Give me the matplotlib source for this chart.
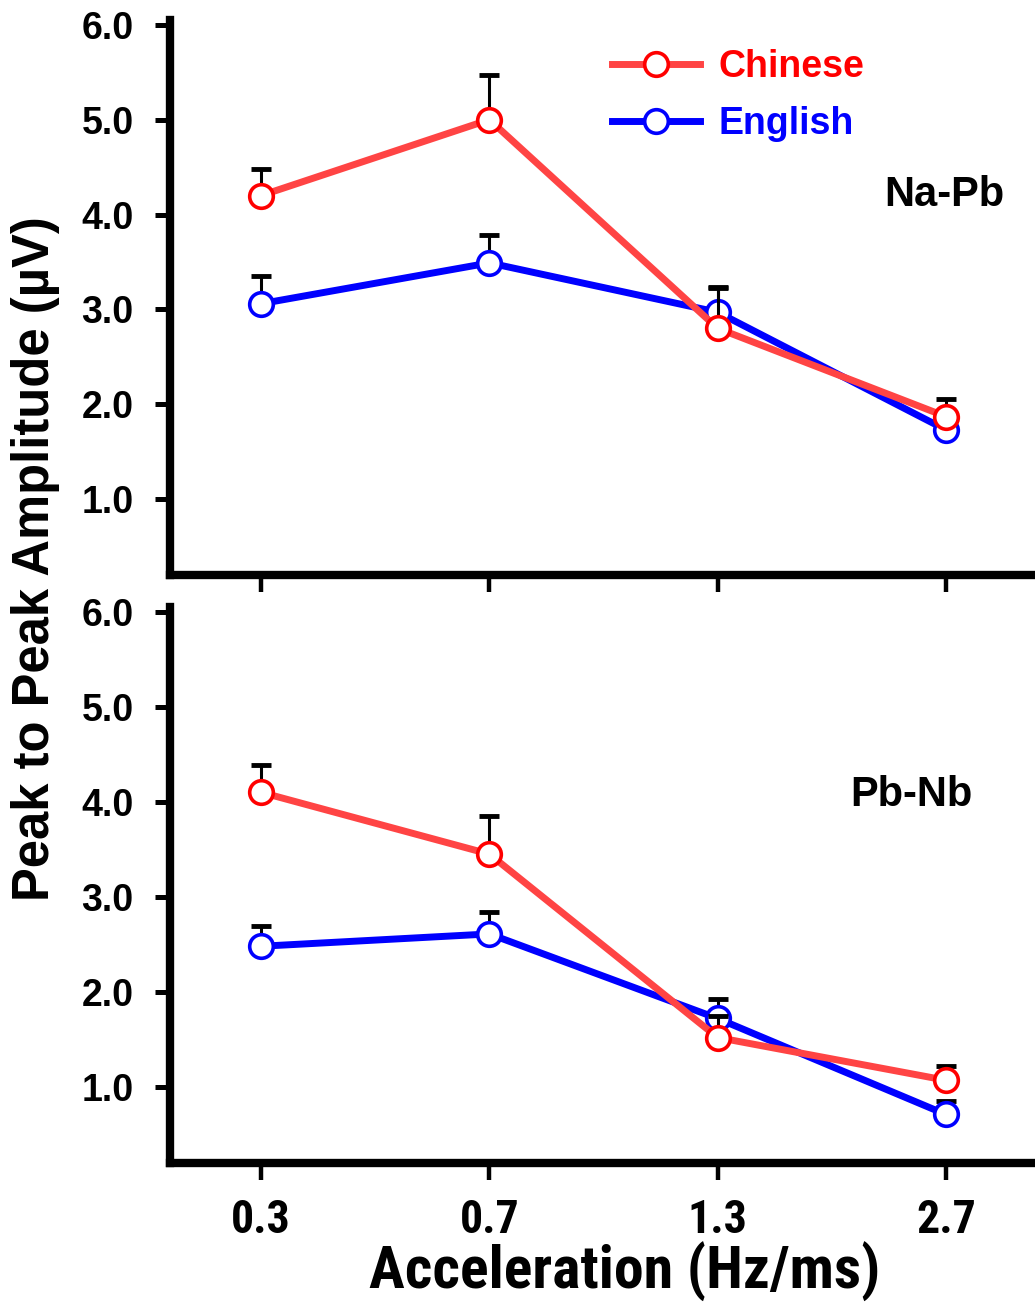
import numpy as np
import matplotlib
matplotlib.use("Agg")
import matplotlib.pyplot as plt
from matplotlib import font_manager

# data
accel = ["0.3", "0.7", "1.3", "2.7"]

napb_chinese = [4.20, 5.00, 2.80, 1.87]
napb_chinese_err = [0.28, 0.47, 0.42, 0.18]
napb_english = [3.06, 3.49, 2.97, 1.73]
napb_english_err = [0.29, 0.29, 0.27, 0.10]

pbnb_chinese = [4.10, 3.45, 1.52, 1.07]
pbnb_chinese_err = [0.29, 0.40, 0.23, 0.15]
pbnb_english = [2.48, 2.61, 1.72, 0.71]
pbnb_english_err = [0.21, 0.23, 0.21, 0.14]

names = {f.name for f in font_manager.fontManager.ttflist}
main_font = "Liberation Sans" if "Liberation Sans" in names else "DejaVu Sans"
plt.rcParams["font.family"] = main_font
plt.rcParams["font.weight"] = "bold"


def find_narrow_bold():
    # look for a condensed bold sans face, if the system has one
    narrow_stretch = ("ultra-condensed", "extra-condensed", "condensed", "semi-condensed")
    prefs = ["Liberation Sans Narrow", "Arial Narrow", "Roboto Condensed",
             "Open Sans Condensed", "Noto Sans", "DejaVu Sans"]
    for fam in prefs:
        for f in font_manager.fontManager.ttflist:
            w = f.weight if isinstance(f.weight, int) else {"bold": 700}.get(f.weight, 400)
            narrow = (f.stretch in narrow_stretch or
                      (isinstance(f.stretch, int) and f.stretch < 100) or
                      "Narrow" in f.name or "Condensed" in f.name or
                      "Condensed" in f.fname)
            if f.name.startswith(fam) and w >= 700 and narrow:
                return font_manager.FontProperties(fname=f.fname)
    return None


narrow = find_narrow_bold()

red_line = "#FF4444"
red_edge = "#FF0000"
blue = "#0000FF"

fig = plt.figure(figsize=(10.35, 13.02), dpi=100)
ax1 = fig.add_axes([0.164, 0.5584, 0.836, 0.4262])
ax2 = fig.add_axes([0.164, 0.1068, 0.836, 0.4270])

x = np.arange(len(accel))


def draw_panel(ax, chinese, chinese_err, english, english_err):
    zero = np.zeros(len(x))
    ax.plot(x, english, color=blue, lw=5, zorder=2, solid_capstyle="butt")
    ax.errorbar(x, english, yerr=[zero, english_err], fmt="none", ecolor="black",
                elinewidth=2.2, capsize=7, capthick=3.5, zorder=2.1)
    ax.plot(x, english, ls="none", marker="o", ms=17, mfc="white", mec=blue, mew=2.6,
            zorder=2.2)
    ax.plot(x, chinese, color=red_line, lw=5, zorder=3, solid_capstyle="butt")
    ax.errorbar(x, chinese, yerr=[zero, chinese_err], fmt="none", ecolor="black",
                elinewidth=2.2, capsize=7, capthick=3.5, zorder=3.1)
    ax.plot(x, chinese, ls="none", marker="o", ms=17, mfc="white", mec=red_edge, mew=2.6,
            zorder=3.2)

    ax.set_xlim(-0.40, 3.39)
    ax.set_ylim(0.2, 6.05)
    ax.set_yticks([1, 2, 3, 4, 5, 6])
    ax.set_yticklabels(["%.1f" % v for v in [1, 2, 3, 4, 5, 6]])
    ax.set_xticks(x)
    for s in ["top", "right"]:
        ax.spines[s].set_visible(False)
    for s in ["left", "bottom"]:
        ax.spines[s].set_linewidth(6)
    ax.tick_params(axis="y", direction="out", length=11, width=3.6, pad=15, labelsize=27)
    ax.tick_params(axis="x", direction="out", length=12, width=3.2, pad=13)
    for lab in ax.get_yticklabels():
        lab.set_fontweight("bold")


draw_panel(ax1, napb_chinese, napb_chinese_err, napb_english, napb_english_err)
draw_panel(ax2, pbnb_chinese, pbnb_chinese_err, pbnb_english, pbnb_english_err)

ax1.set_xticklabels([])
if narrow is not None:
    ax2.set_xticklabels(accel, fontproperties=narrow, fontsize=33)
    xlab_kw = dict(fontproperties=narrow, fontsize=43)
else:
    ax2.set_xticklabels(accel, fontsize=27, fontweight="bold")
    xlab_kw = dict(fontsize=37, fontweight="bold")

ax1.text(0.965, 0.685, "Na-Pb", transform=ax1.transAxes, ha="right", va="center",
         fontsize=30, fontweight="bold")
ax2.text(0.928, 0.662, "Pb-Nb", transform=ax2.transAxes, ha="right", va="center",
         fontsize=30, fontweight="bold")

h_ch, = ax1.plot([], [], color=red_line, lw=5, marker="o", ms=17, mfc="white",
                 mec=red_edge, mew=2.6)
h_en, = ax1.plot([], [], color=blue, lw=5, marker="o", ms=17, mfc="white",
                 mec=blue, mew=2.6)
leg = ax1.legend([h_ch, h_en], ["Chinese", "English"], loc="upper left",
                 bbox_to_anchor=(0.511, 0.947), frameon=False, fontsize=27,
                 handlelength=2.35, handletextpad=0.5, labelspacing=0.55,
                 borderpad=0, borderaxespad=0, numpoints=1)
for t, c in zip(leg.get_texts(), [red_edge, blue]):
    t.set_color(c)
    t.set_fontweight("bold")

fig.text(0.034, 0.571, "Peak to Peak Amplitude (\u00b5V)", rotation=90, ha="center",
         va="center", fontsize=36.5, fontweight="bold")
fig.text(0.604, 0.023, "Acceleration (Hz/ms)", ha="center", va="center", **xlab_kw)

fig.savefig("out.png", dpi=100)
plt.close(fig)
